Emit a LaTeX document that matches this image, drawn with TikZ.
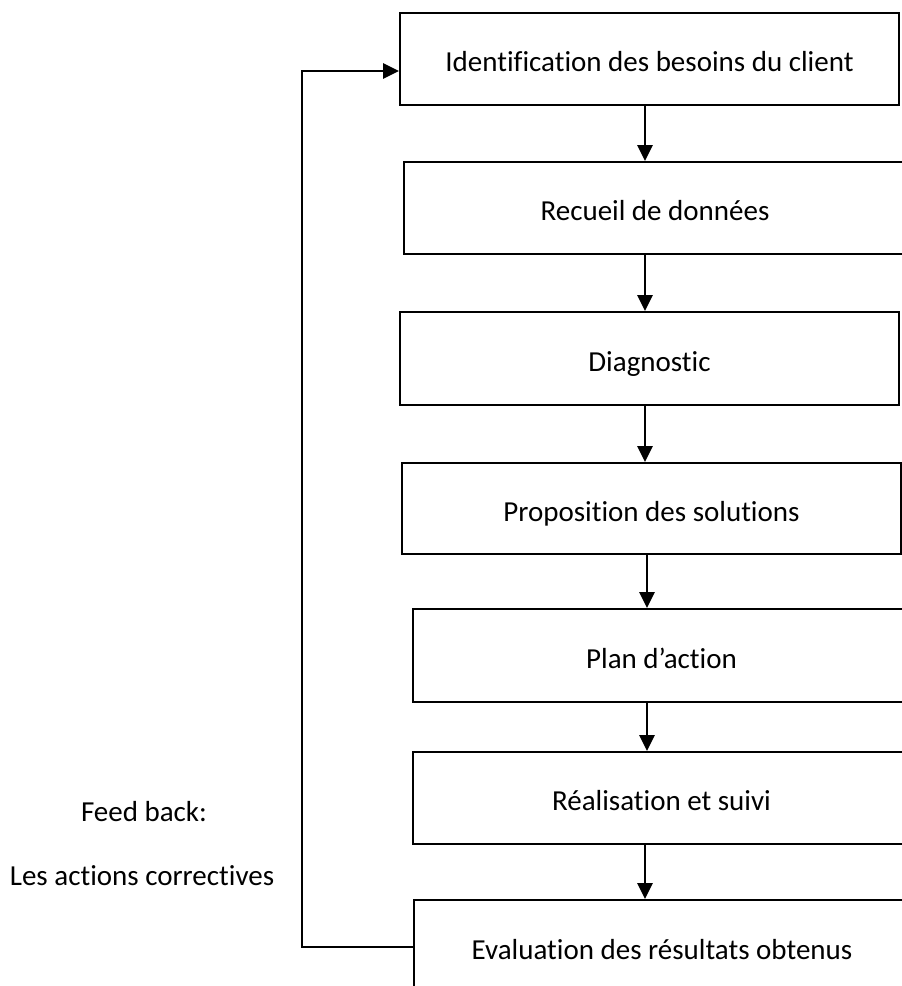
\documentclass[tikz,border=0pt]{standalone}
\usepackage{fontspec}
\setmainfont{Carlito}[Ligatures=NoCommon]
\usetikzlibrary{arrows.meta}
\tikzset{
  box/.style={draw=black, line width=1.8pt, rectangle, inner sep=0pt, text height=25pt, text depth=0pt, font=\fontsize{29}{35}\selectfont},
  arr/.style={line width=2.5pt, -{Triangle[width=15pt,length=16pt]}},
  lbl/.style={inner sep=0pt, font=\fontsize{29}{35}\selectfont}
}
\begin{document}
\begin{tikzpicture}[x=1pt,y=-1pt]
\useasboundingbox (0,0) rectangle (902,986);
\clip (0,0) rectangle (902,986);
\fill[white] (0,0) rectangle (902,986);
\node[box, minimum width=499pt, minimum height=92pt] (b1) at (649.5,59) {Identification des besoins du client};
\node[box, minimum width=502pt, minimum height=92pt] (b2) at (655,208) {Recueil de données};
\node[box, minimum width=499pt, minimum height=93pt] (b3) at (649.5,358.5) {Diagnostic};
\node[box, minimum width=499pt, minimum height=91pt] (b4) at (651.5,508.5) {Proposition des solutions};
\node[box, minimum width=497pt, minimum height=93pt] (b5) at (661.5,655.5) {Plan d’action};
\node[box, minimum width=497pt, minimum height=92pt] (b6) at (661.5,798) {Réalisation et suivi};
\node[box, minimum width=496pt, minimum height=94pt] (b7) at (662,947) {Evaluation des résultats obtenus};
\node[lbl] (fb) at (144,812) {Feed back:};
\node[lbl] (ac) at (142,876) {Les actions correctives};
\coordinate (ax) at (645,0);
\coordinate (ax2) at (647,0);
\draw[arr] (b1.south -| ax) -- (b2.north -| ax);
\draw[arr] (b2.south -| ax) -- (b3.north -| ax);
\draw[arr] (b3.south -| ax) -- (b4.north -| ax);
\draw[arr] (b4.south -| ax2) -- (b5.north -| ax2);
\draw[arr] (b5.south -| ax2) -- (b6.north -| ax2);
\draw[arr] (b6.south -| ax) -- (b7.north -| ax);
\coordinate (fx) at (302,0);
\draw[arr] (b7.west) -- (b7.west -| fx) -- ([yshift=-12pt]b1.west -| fx) -- ([yshift=-12pt]b1.west);
\end{tikzpicture}
\end{document}
